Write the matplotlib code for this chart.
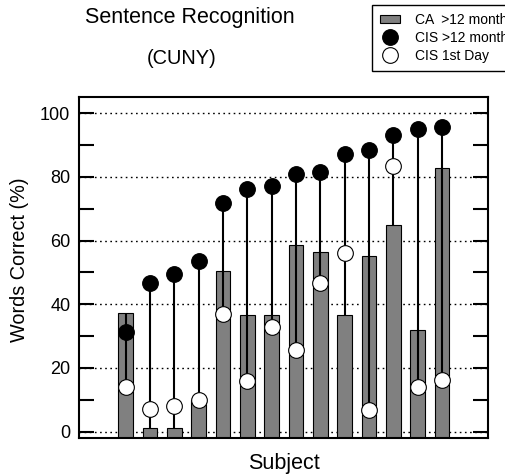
import matplotlib
matplotlib.use("Agg")
import matplotlib.pyplot as plt
import numpy as np
from matplotlib.ticker import MultipleLocator

plt.rcParams['font.family'] = ['Liberation Sans', 'DejaVu Sans']

subjects = list(range(1, 15))
ca_12 = [37.2, 1.0, 1.0, 10.0, 50.6, 36.5, 36.5, 58.6, 56.3, 36.5, 55.1, 65.0, 31.8, 82.8]
cis_12 = [31.4, 46.8, 49.6, 53.5, 71.7, 76.1, 77.2, 80.9, 81.6, 87.2, 88.4, 93.3, 95.1, 95.7]
cis_1st = [13.9, 7.2, 7.9, 10.0, 36.9, 16.0, 33.0, 25.7, 46.8, 56.0, 6.7, 83.3, 14.0, 16.3]

W, H = 506, 476
fig = plt.figure(figsize=(W / 100, H / 100), dpi=100)
ax = fig.add_axes([78.7 / W, 1 - 438 / H, (488.3 - 78.7) / W, (438 - 97.3) / H])

ymin, ymax = -2.0, 105.0
ax.set_ylim(ymin, ymax)
ax.set_xlim(-0.93, 15.9)

for yv in range(0, 101, 20):
    ax.axhline(yv, color='black', lw=1.0, ls=(0, (1.2, 2.5)), zorder=1)

heights = [v - ymin for v in ca_12]
bars = ax.bar(subjects, heights, bottom=ymin, width=0.6, color='#808080',
              edgecolor='black', linewidth=0.8, zorder=2)

lo = [min(a, b, c) for a, b, c in zip(ca_12, cis_12, cis_1st)]
hi = [max(a, b, c) for a, b, c in zip(ca_12, cis_12, cis_1st)]
ax.vlines(subjects, lo, hi, color='black', lw=1.5, zorder=3)

l1, = ax.plot(subjects, cis_12, 'o', ms=11.3, mfc='black', mec='black', mew=0.8,
              ls='none', zorder=4)
l2, = ax.plot(subjects, cis_1st, 'o', ms=11.3, mfc='white', mec='black', mew=0.8,
              ls='none', zorder=5)

ax.yaxis.set_major_locator(MultipleLocator(20))
ax.yaxis.set_minor_locator(MultipleLocator(10))
ax.tick_params(axis='y', which='both', direction='in', length=11, width=1.5,
               left=True, right=True, labelsize=13, pad=6)
ax.tick_params(axis='x', which='both', bottom=False, top=False, labelbottom=False)
for s in ax.spines.values():
    s.set_linewidth(1.5)

fig.text(20 / W, 1 - 260 / H, 'Words Correct (%)', rotation=90, fontsize=14.3,
         ha='center', va='center')
fig.text(284 / W, 1 - 463 / H, 'Subject', fontsize=15.5, ha='center', va='center')
fig.text(190 / W, 1 - 18 / H, 'Sentence Recognition', fontsize=15.5, ha='center', va='center')
fig.text(182 / W, 1 - 59 / H, '(CUNY)', fontsize=14.4, ha='center', va='center')

leg = fig.legend([bars, l1, l2], ['CA  >12 months', 'CIS >12 months', 'CIS 1st Day'],
                 loc='upper left', bbox_to_anchor=(371.7 / W, 1 - 4.7 / H),
                 fontsize=10, frameon=True, fancybox=False, framealpha=1,
                 edgecolor='black', handlelength=1.44, handletextpad=1.08,
                 handleheight=0.55,
                 borderpad=0.6, labelspacing=0.28, borderaxespad=0,
                 markerscale=1.0)
leg.get_frame().set_linewidth(1.0)

fig.savefig('out.png', dpi=100)
